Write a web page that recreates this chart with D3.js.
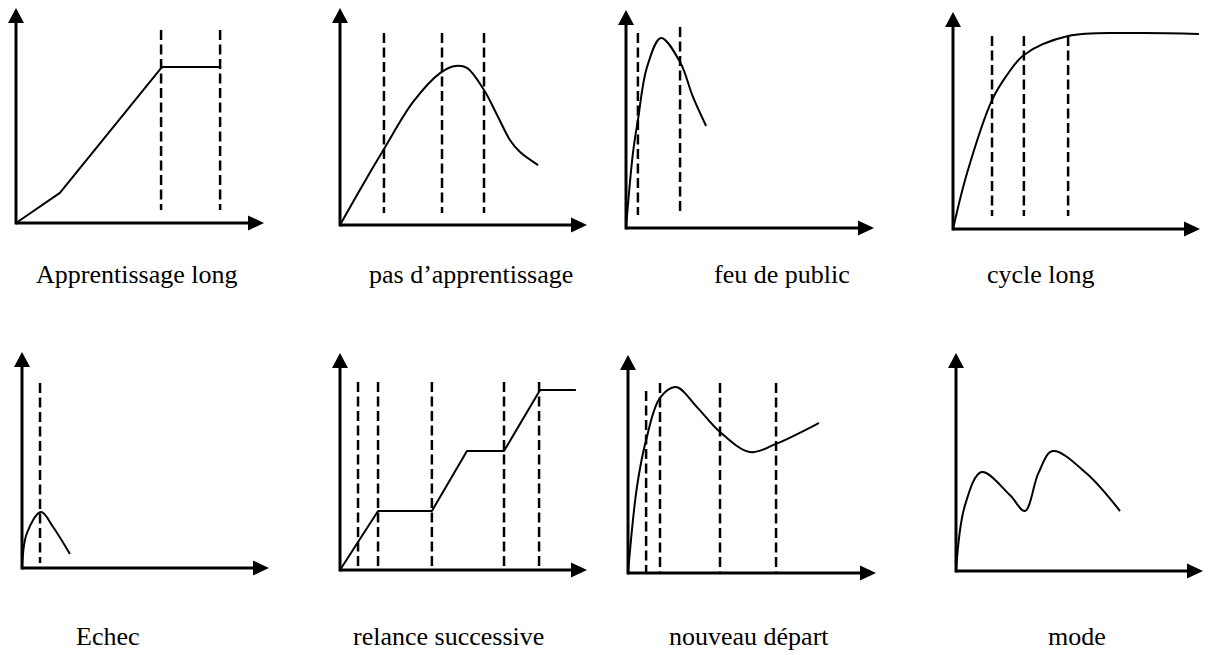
<!DOCTYPE html>
<html>
<head>
<meta charset="utf-8">
<script src="https://cdn.jsdelivr.net/npm/d3@7"></script>
<style>
  body { margin: 0; background: #fff; }
  svg { display: block; }
  text { font-family: "Liberation Serif", "Times New Roman", Times, "DejaVu Serif", serif; }
</style>
</head>
<body>
<svg width="1212" height="655"></svg>
<script>
var svg = d3.select("svg");

// labels under each small chart
var titles = [
  "Apprentissage long", "pas d\u2019apprentissage", "feu de public", "cycle long",
  "Echec", "relance successive", "nouveau d\u00e9part", "mode"
];

// curves, in units of 0..100 along each axis
var curveLong = [[0, 0], [17.7, 14.0], [58.9, 72.6], [82.3, 72.6]];
var curvePas = [[0, 0], [8.1, 16.3], [17.8, 35.0], [29.6, 56.7], [40.5, 70.0], [46.6, 73.3],
  [51.4, 72.4], [58.3, 62.2], [63.6, 50.7], [68.8, 39.2], [72.9, 33.6], [80.2, 27.6]];
var curveFeu = [[0, 0], [2.8, 34.4], [4.8, 49.5], [8.5, 73.9], [14.1, 87.2], [21.8, 76.1],
  [27.0, 60.1], [32.3, 46.8]];
var curveCycle = [[0, 0], [5.7, 25.8], [15.8, 59.4], [21.9, 71.0], [28.7, 80.2], [46.6, 88.9],
  [71.7, 90.3], [99.6, 89.9]];
var curveEchec = [[0, 0], [2.0, 16.2], [7.7, 25.9], [12.6, 19.0], [19.4, 6.5]];
var curveRelance = [[0, 0], [15.4, 27.2], [37.2, 27.2], [51.4, 54.8], [66.4, 54.8], [81.0, 82.9], [95.5, 82.9]];
var curveDepart = [[0, 0], [3.6, 39.4], [7.3, 61.0], [12.9, 80.3], [19.4, 85.3], [27.8, 76.1],
  [37.1, 64.7], [49.2, 55.5], [59.7, 59.2], [77.0, 68.8]];
var curveMode = [[0, 0], [3.6, 30.0], [10.4, 45.4], [21.9, 34.7], [27.9, 27.5],
  [33.4, 45.0], [39.1, 55.0], [52.9, 44.7], [66.4, 27.5]];

// dashed markers: x positions and top ends
var dashLongX = [58.5, 82.3], dashLongTop = [89.8, 89.8];
var dashPasX = [17.8, 41.3, 58.3], dashPasTop = [88.5, 88.5, 88.5];
var dashFeuX = [4.8, 21.8], dashFeuTop = [89.4, 92.2];
var dashCycleX = [15.8, 28.7, 46.6], dashCycleTop = [88.9, 88.9, 88.9];
var dashEchecX = [7.3], dashEchecTop = [85.6];
var dashRelanceX = [7.3, 15.4, 37.2, 66.4, 80.6], dashRelanceTop = [86.6, 86.6, 86.6, 86.6, 86.6];
var dashDepartX = [7.3, 12.9, 37.1, 59.7], dashDepartTop = [83.5, 87.2, 87.2, 87.2];
var dashModeX = [], dashModeTop = [];
var dashBottom = [6, 5.5, 6, 6, 2.3, 0, 0.5, 0];

var curves = [curveLong, curvePas, curveFeu, curveCycle, curveEchec, curveRelance, curveDepart, curveMode];
var dashX = [dashLongX, dashPasX, dashFeuX, dashCycleX, dashEchecX, dashRelanceX, dashDepartX, dashModeX];
var dashTop = [dashLongTop, dashPasTop, dashFeuTop, dashCycleTop, dashEchecTop, dashRelanceTop, dashDepartTop, dashModeTop];
var straight = [true, false, false, false, false, true, false, false];

// frame of each panel: origin and arrow tips (pixels), label spot
var frames = [
  { ox: 16, oy: 223, x1: 264, y1: 8, lx: 36, ly: 283 },
  { ox: 340, oy: 225, x1: 587, y1: 8, lx: 369, ly: 283 },
  { ox: 626, oy: 228, x1: 874, y1: 10, lx: 714, ly: 283 },
  { ox: 953, oy: 229, x1: 1200, y1: 12, lx: 987, ly: 283 },
  { ox: 22, oy: 568, x1: 269, y1: 352, lx: 76, ly: 645 },
  { ox: 340, oy: 570, x1: 587, y1: 353, lx: 353, ly: 645 },
  { ox: 628, oy: 573, x1: 876, y1: 355, lx: 669, ly: 645 },
  { ox: 956, oy: 571, x1: 1203, y1: 353, lx: 1048, ly: 645 }
];

frames.forEach(function (f, i) {
  var x = d3.scaleLinear().domain([0, 100]).range([f.ox, f.x1]);
  var y = d3.scaleLinear().domain([0, 100]).range([f.oy, f.y1]);
  var g = svg.append("g");

  // dashed markers
  g.selectAll("line.dash")
    .data(dashX[i])
    .enter()
    .append("line")
    .attr("x1", function (d) { return x(d); })
    .attr("x2", function (d) { return x(d); })
    .attr("y1", function (d, j) { return y(dashTop[i][j]); })
    .attr("y2", y(dashBottom[i]))
    .attr("stroke", "#000")
    .attr("stroke-width", 2.5)
    .attr("stroke-dasharray", "10,4.5");

  // axes
  g.append("line")
    .attr("x1", x(0)).attr("y1", y(0))
    .attr("x2", x(100) - 12).attr("y2", y(0))
    .attr("stroke", "#000").attr("stroke-width", 3);
  g.append("line")
    .attr("x1", x(0)).attr("y1", y(0) + 1.5)
    .attr("x2", x(0)).attr("y2", y(100) + 12)
    .attr("stroke", "#000").attr("stroke-width", 3);
  g.append("path")
    .attr("d", d3.line()([[x(100), y(0)], [x(100) - 16, y(0) - 7.5], [x(100) - 16, y(0) + 7.5]]) + "Z")
    .attr("fill", "#000");
  g.append("path")
    .attr("d", d3.line()([[x(0), y(100)], [x(0) - 8, y(100) + 15], [x(0) + 8, y(100) + 15]]) + "Z")
    .attr("fill", "#000");

  // curve
  var line = d3.line()
    .x(function (d) { return x(d[0]); })
    .y(function (d) { return y(d[1]); })
    .curve(straight[i] ? d3.curveLinear : d3.curveCatmullRom.alpha(0.5));
  g.append("path")
    .datum(curves[i])
    .attr("d", line)
    .attr("fill", "none")
    .attr("stroke", "#000")
    .attr("stroke-width", 2)
    .attr("stroke-linejoin", "round");

  g.append("text")
    .attr("x", f.lx)
    .attr("y", f.ly)
    .attr("font-size", 26)
    .attr("fill", "#000")
    .text(titles[i]);
});
</script>
</body>
</html>
